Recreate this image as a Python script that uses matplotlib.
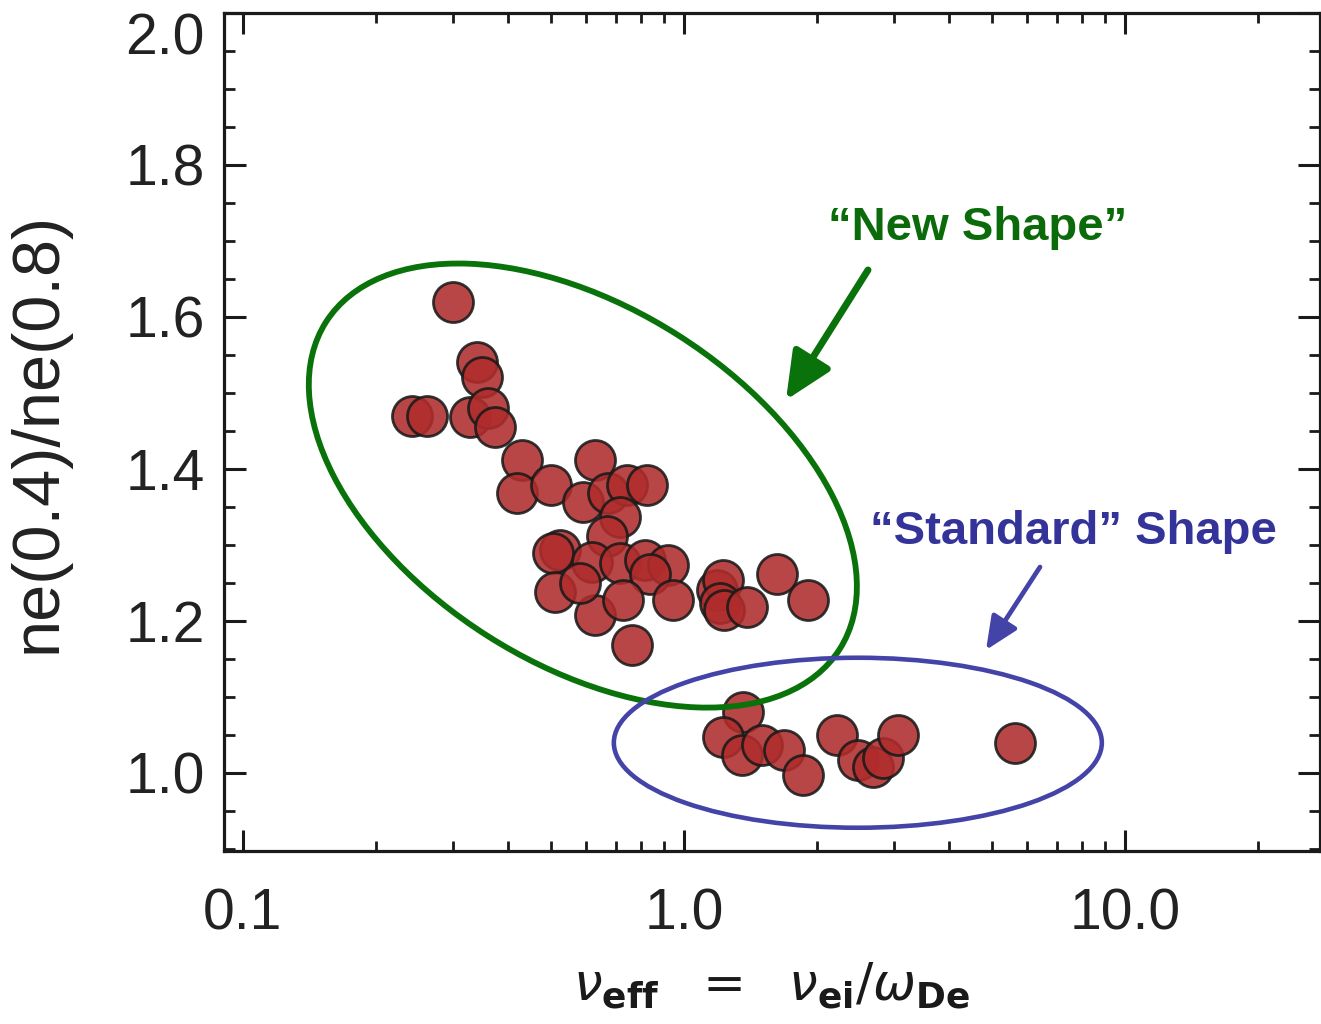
import matplotlib
matplotlib.use("Agg")
import matplotlib.pyplot as plt
from matplotlib.patches import Ellipse
from matplotlib.transforms import ScaledTranslation
from matplotlib.ticker import FixedLocator, NullFormatter, FixedFormatter
import numpy as np

# ---- data ----
nu_eff = [0.299, 0.340, 0.348, 0.242, 0.261, 0.327, 0.359, 0.372, 0.430, 0.628,
          0.418, 0.499, 0.590, 0.673, 0.743, 0.824, 0.716, 0.668, 0.523, 0.505,
          0.618, 0.716, 0.816, 0.920, 0.837, 0.510, 0.628, 0.727, 0.944, 0.581,
          0.762, 1.19, 1.226, 1.21, 1.23, 1.39, 1.625, 1.91,
          1.36, 1.225, 1.354, 1.50, 1.69, 1.86, 2.22, 2.48, 2.68, 2.83, 3.06, 5.63]
ne_ratio = [1.620, 1.541, 1.521, 1.470, 1.470, 1.468, 1.480, 1.455, 1.412, 1.412,
            1.368, 1.379, 1.357, 1.368, 1.379, 1.379, 1.336, 1.311, 1.293, 1.289,
            1.278, 1.276, 1.280, 1.274, 1.261, 1.238, 1.208, 1.228, 1.228, 1.250,
            1.168, 1.241, 1.254, 1.224, 1.214, 1.218, 1.261, 1.228,
            1.080, 1.047, 1.024, 1.037, 1.030, 0.997, 1.050, 1.017, 1.008, 1.020, 1.050, 1.039]

x_major = [0.1, 1.0, 10.0]
x_major_labels = ["0.1", "1.0", "10.0"]
y_major = [1.0, 1.2, 1.4, 1.6, 1.8, 2.0]
y_major_labels = ["1.0", "1.2", "1.4", "1.6", "1.8", "2.0"]

plt.rcParams['font.family'] = ['Liberation Sans', 'DejaVu Sans']
plt.rcParams['mathtext.fontset'] = 'dejavusans'

fig = plt.figure(figsize=(13.21, 10.24), dpi=100)
ax = fig.add_axes([224/1321, 1 - 851/1024, (1320 - 224)/1321, (851 - 13)/1024])

ax.set_xscale('log')
ax.set_xlim(0.0906, 27.7)
ax.set_ylim(0.897, 2.0)

ax.scatter(nu_eff, ne_ratio, s=830, facecolor='#b02c2c', edgecolor='#1a1a1a',
           linewidths=2.0, alpha=0.88, zorder=3)

# ticks
ax.xaxis.set_major_locator(FixedLocator(x_major))
ax.xaxis.set_major_formatter(FixedFormatter(x_major_labels))
minors = [m * 10.0**e for e in (-2, -1, 0, 1) for m in range(2, 10)]
ax.xaxis.set_minor_locator(FixedLocator(minors))
ax.xaxis.set_minor_formatter(NullFormatter())
ax.yaxis.set_major_locator(FixedLocator(y_major))
ax.yaxis.set_major_formatter(FixedFormatter(y_major_labels))
ax.yaxis.set_minor_locator(FixedLocator(np.arange(0.9, 2.0001, 0.05)))

ax.tick_params(axis='both', which='both', direction='in', top=True, right=True,
               color='#1a1a1a', labelcolor='#222222')
ax.tick_params(axis='x', which='major', length=15, width=2.2, labelsize=41, pad=26)
ax.tick_params(axis='x', which='minor', length=7, width=2.0)
ax.tick_params(axis='y', which='major', length=16, width=2.2, labelsize=41, pad=14)
ax.tick_params(axis='y', which='minor', length=8, width=2.0)
for sp in ax.spines.values():
    sp.set_linewidth(2.3)
    sp.set_color('#1a1a1a')

fig.canvas.draw()
for lab in ax.get_yticklabels():
    if lab.get_text() == "2.0":
        lab.set_va('top')
        lab.set_y(1.997)

ax.set_ylabel("ne(0.4)/ne(0.8)", fontsize=48, color='#222222', labelpad=40)
ax.set_xlabel(r"$\nu_{\mathbf{eff}}\ \ =\ \ \nu_{\mathbf{ei}}/\omega_{\mathbf{De}}$",
              fontsize=37, color='#1a1a1a', labelpad=14)

# ellipses (sizes in inches, centred at data positions)
green = '#0a720a'
blue = '#4343a8'
e1 = Ellipse((0, 0), width=6.09, height=3.56, angle=-32.5, fill=False,
             edgecolor=green, lw=4.2,
             transform=fig.dpi_scale_trans + ScaledTranslation(0.59, 1.378, ax.transData),
             zorder=4, clip_on=False)
ax.add_patch(e1)
e2 = Ellipse((0, 0), width=4.88, height=1.70, angle=0, fill=False,
             edgecolor=blue, lw=3.3,
             transform=fig.dpi_scale_trans + ScaledTranslation(2.48, 1.0395, ax.transData),
             zorder=4, clip_on=False)
ax.add_patch(e2)

# annotations
fig.text(978/1321, 1 - 228/1024, "\u201cNew Shape\u201d", color='#0b6b0b',
         fontsize=34, fontweight='bold', ha='center', va='center')
fig.text(1073/1321, 1 - 532/1024, "\u201cStandard\u201d Shape", color='#333399',
         fontsize=34, fontweight='bold', ha='center', va='center')

ax.annotate("", xy=(786, 1024 - 400), xycoords='figure pixels',
            xytext=(868, 1024 - 270), textcoords='figure pixels',
            arrowprops=dict(arrowstyle='-|>,head_length=0.72,head_width=0.33',
                            lw=5.0, color=green, mutation_scale=40,
                            shrinkA=0, shrinkB=0))
ax.annotate("", xy=(986, 1024 - 650), xycoords='figure pixels',
            xytext=(1040, 1024 - 567), textcoords='figure pixels',
            arrowprops=dict(arrowstyle='-|>,head_length=0.67,head_width=0.3',
                            lw=3.4, color=blue, mutation_scale=30,
                            shrinkA=0, shrinkB=0))

fig.savefig("out.png", dpi=100)
